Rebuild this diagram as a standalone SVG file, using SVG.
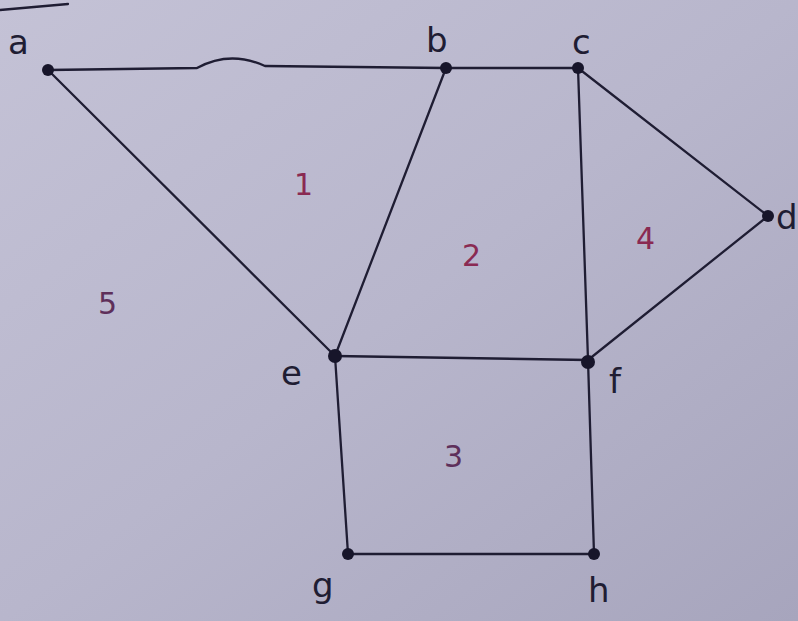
<svg xmlns="http://www.w3.org/2000/svg" width="798" height="621" viewBox="0 0 798 621">
<defs>
<linearGradient id="paper" x1="0" y1="0" x2="1" y2="1">
<stop offset="0" stop-color="#c4c2d6"/>
<stop offset="0.5" stop-color="#b8b6cc"/>
<stop offset="1" stop-color="#a7a5bd"/>
</linearGradient>
<style>
.edge{fill:none;stroke:#1f1d33;stroke-width:2.3;stroke-linecap:round;stroke-linejoin:round}
.dot{fill:#17152a}
.lbl{font-family:"DejaVu Sans","Liberation Sans",sans-serif;font-size:34px;fill:#1f1d33}
.num{font-family:"DejaVu Sans","Liberation Sans",sans-serif;font-size:30px;fill:#8a2a52}
.num.dark{fill:#5e2f5a}
</style>
</defs>
<rect width="798" height="621" fill="url(#paper)"/>
<path class="edge" d="M0,10 L68,4" stroke-width="2"/>
<g id="connectors">
<path class="edge" d="M48,70 L197,68 Q230,50 265,66 L446,68" stroke-width="2.6"/>
<path class="edge" d="M446,68 L578,68" stroke-width="2.8"/>
<path class="edge" d="M48,70 L335,356"/>
<path class="edge" d="M446,68 L335,356"/>
<path class="edge" d="M578,68 L588,360"/>
<path class="edge" d="M578,68 L768,216" stroke-width="2.6"/>
<path class="edge" d="M768,216 L588,360"/>
<path class="edge" d="M335,356 L588,360"/>
<path class="edge" d="M335,356 L348,554"/>
<path class="edge" d="M588,360 L594,554"/>
<path class="edge" d="M348,554 L594,554"/>
</g>
<g id="node-a"><circle class="dot" cx="48" cy="70" r="6"/><text class="lbl" x="8" y="54">a</text></g>
<g id="node-b"><circle class="dot" cx="446" cy="68" r="6"/><text class="lbl" x="426" y="52">b</text></g>
<g id="node-c"><circle class="dot" cx="578" cy="68" r="6"/><text class="lbl" x="572" y="54">c</text></g>
<g id="node-d"><circle class="dot" cx="768" cy="216" r="6"/><text class="lbl" x="776" y="229">d</text></g>
<g id="node-e"><circle class="dot" cx="335" cy="356" r="7"/><text class="lbl" x="281" y="385">e</text></g>
<g id="node-f"><circle class="dot" cx="588" cy="362" r="7"/><text class="lbl" x="609" y="393">f</text></g>
<g id="node-g"><circle class="dot" cx="348" cy="554" r="6"/><text class="lbl" x="312" y="597">g</text></g>
<g id="node-h"><circle class="dot" cx="594" cy="554" r="6"/><text class="lbl" x="588" y="602">h</text></g>
<g id="regions">
<text class="num" x="294" y="195">1</text>
<text class="num" x="462" y="266">2</text>
<text class="num dark" x="444" y="467">3</text>
<text class="num" x="636" y="249">4</text>
<text class="num dark" x="98" y="314">5</text>
</g>
</svg>
